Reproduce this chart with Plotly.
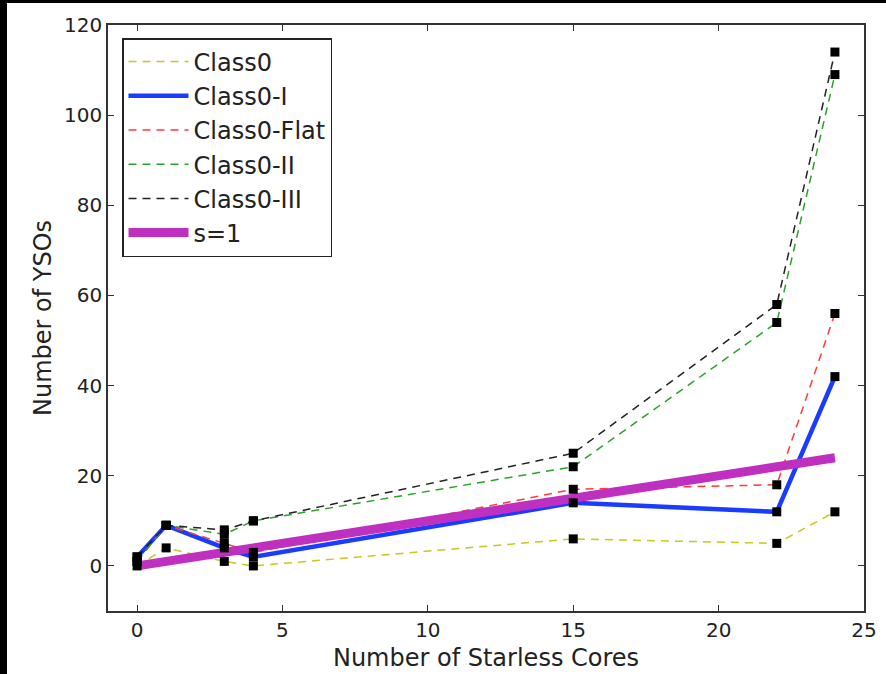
import plotly.graph_objects as go

cores = [0, 1, 3, 4, 15, 22, 24]
class0 = [0, 4, 1, 0, 6, 5, 12]
class0_I = [2, 9, 4, 2, 14, 12, 42]
class0_flat = [1, 9, 5, 3, 17, 18, 56]
class0_II = [1, 9, 7, 10, 22, 54, 109]
class0_III = [2, 9, 8, 10, 25, 58, 114]
s1_x = [0, 24]
s1_y = [0, 24]

FONT = "DejaVu Sans, Arial, sans-serif"
DASH = "8px,6px"

series = [
    ("Class0", class0, "#c8c81e", 1.5, DASH),
    ("Class0-I", class0_I, "#1a3cff", 4.5, "solid"),
    ("Class0-Flat", class0_flat, "#ff3b3b", 1.5, DASH),
    ("Class0-II", class0_II, "#2ca02c", 1.5, DASH),
    ("Class0-III", class0_III, "#222222", 1.5, DASH),
]

fig = go.Figure()
for name, ys, color, w, dash in series:
    fig.add_trace(go.Scatter(x=cores, y=ys, mode="lines", name=name,
                             line=dict(color=color, width=w, dash=dash)))
fig.add_trace(go.Scatter(x=s1_x, y=s1_y, mode="lines", name="s=1",
                         line=dict(color="#c030c0", width=9)))
for name, ys, color, w, dash in series:
    fig.add_trace(go.Scatter(x=cores, y=ys, mode="markers", showlegend=False,
                             marker=dict(symbol="square", size=9, color="black"),
                             hoverinfo="skip"))

PW, PH = 756, 586
L, T = 108, 25
shapes = [
    dict(type="rect", xref="paper", yref="paper", x0=-L / PW, x1=(-L + 7) / PW,
         y0=-2, y1=1 + T / PH, fillcolor="black", line_width=0, layer="above"),
    dict(type="rect", xref="paper", yref="paper", x0=-L / PW, x1=2,
         y0=1 + (T - 3) / PH, y1=1 + T / PH, fillcolor="black", line_width=0, layer="above"),
]

axis_common = dict(showgrid=False, zeroline=False, showline=True, linecolor="#333333",
                   linewidth=1.5, mirror="ticks", ticks="inside", ticklen=6,
                   tickcolor="#333333", automargin=False,
                   tickfont=dict(size=20, color="#222222", family=FONT))

fig.update_layout(
    width=886, height=674,
    margin=dict(l=L, r=22, t=T, b=63, autoexpand=False),
    paper_bgcolor="white", plot_bgcolor="white",
    font=dict(family=FONT, color="#222222"),
    shapes=shapes,
    xaxis=dict(range=[-1, 25], tickvals=[0, 5, 10, 15, 20, 25],
               title=dict(text="Number of Starless Cores", font=dict(size=24), standoff=8),
               **axis_common),
    yaxis=dict(range=[-10, 120], tickvals=[0, 20, 40, 60, 80, 100, 120],
               title=dict(text="Number of YSOs", font=dict(size=24), standoff=6),
               **axis_common),
    legend=dict(x=(122 - L) / PW, y=(611 - 38) / PH, xanchor="left", yanchor="top",
                bgcolor="white", bordercolor="#222222", borderwidth=1.5,
                font=dict(size=24, family=FONT, color="#222222"), itemwidth=60,
                tracegroupgap=0),
    showlegend=True,
)

fig.write_html("out.html")
